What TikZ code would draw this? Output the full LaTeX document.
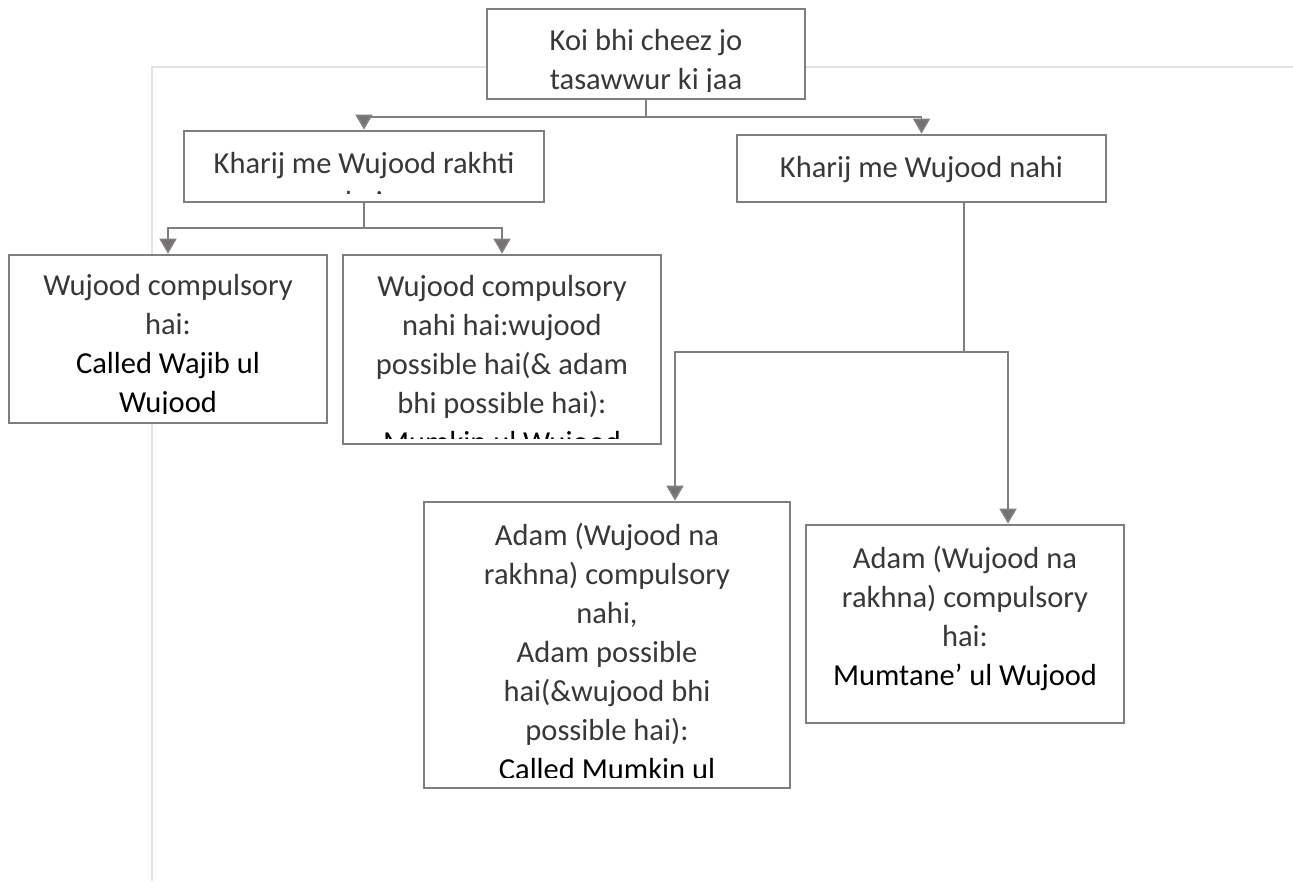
\documentclass[tikz,border=0pt]{standalone}
\usepackage{fontspec}
\setmainfont{Carlito}
\usetikzlibrary{arrows.meta}
\definecolor{edgegray}{HTML}{7F7F7F}
\definecolor{arrowgray}{HTML}{767171}
\definecolor{framegray}{HTML}{E3E3E3}
\definecolor{lighttext}{HTML}{383838}
\newcommand{\fs}{\rule{0pt}{25pt}}
\begin{document}
\begin{tikzpicture}[x=1pt,y=-1pt,
  box/.style={draw=edgegray, line width=2.7pt, fill=white, inner sep=0pt, rectangle},
  conn/.style={draw=edgegray, line width=1.8pt},
  arr/.style={conn, -{Triangle[width=17pt,length=15pt,fill=arrowgray]}},
  txt/.style={inner sep=0pt, align=center, anchor=north, text=lighttext,
    font=\fontsize{30.5}{39}\selectfont}
]
\useasboundingbox (0,0) rectangle (1293,881);
% light background frame
\draw[framegray, line width=1.5pt] (1293,67) -- (152,67) -- (152,881);

% boxes
\node[box, minimum width=318pt, minimum height=90pt]  (top) at (646,54) {};
\node[box, minimum width=360pt, minimum height=71pt]  (A) at (364,166.5) {};
\node[box, minimum width=369pt, minimum height=67pt]  (B) at (921.5,168.5) {};
\node[box, minimum width=318pt, minimum height=168pt] (C) at (168,339) {};
\node[box, minimum width=318pt, minimum height=189pt] (D) at (502,349.5) {};
\node[box, minimum width=366pt, minimum height=286pt] (E) at (607,645) {};
\node[box, minimum width=318pt, minimum height=198pt] (F) at (965,624) {};

% texts (clipped to the boxes' text areas)
\begin{scope}
\clip (487,9) rectangle (805,91);
\node[txt] (ttop) at (646,25) {\fs Koi bhi cheez jo\\tasawwur ki jaa};
\end{scope}
\begin{scope}
\clip (184,131) rectangle (544,193);
\node[txt] (tA) at (364,148) {\fs Kharij me Wujood rakhti\\hai};
\end{scope}
\node[txt] (tB) at (921.5,152) {\fs Kharij me Wujood nahi};
\begin{scope}
\clip (9,255) rectangle (327,413.5);
\node[txt] (tC) at (168,270) {\fs Wujood compulsory\\hai:\\{\color{black}Called Wajib ul}\\{\color{black}Wujood}};
\end{scope}
\begin{scope}
\clip (343,255) rectangle (661,438);
\node[txt] (tD) at (502,271) {\fs Wujood compulsory\\nahi hai:wujood\\possible hai(\& adam\\bhi possible hai):\\{\color{black}Mumkin ul Wujood}};
\end{scope}
\begin{scope}
\clip (424,502) rectangle (790,777);
\node[txt] (tE) at (607,520) {\fs Adam (Wujood na\\rakhna) compulsory\\nahi,\\Adam possible\\hai(\&wujood bhi\\possible hai):\\{\color{black}Called Mumkin ul}\\{\color{black}Wujood}};
\end{scope}
\node[txt] (tF) at (965,543) {\fs Adam (Wujood na\\rakhna) compulsory\\hai:\\{\color{black}Mumtane’ ul Wujood}};

% connectors
\coordinate (j1) at (646,117);
\coordinate (j2) at (364,228);
\coordinate (j3) at (964,352);
\draw[conn] (top.south) -- (j1);
\draw[arr] (j1) -| (A.north);
\draw[arr] (j1) -| (B.north);
\draw[conn] (A.south) -- (j2);
\draw[arr] (j2) -| (C.north);
\draw[arr] (j2) -| (D.north);
\draw[conn] ([xshift=42.5pt]B.south) -- (j3);
\draw[arr] (j3) -| ([xshift=68pt]E.north);
\draw[arr] (j3) -| ([xshift=43pt]F.north);
\end{tikzpicture}
\end{document}
